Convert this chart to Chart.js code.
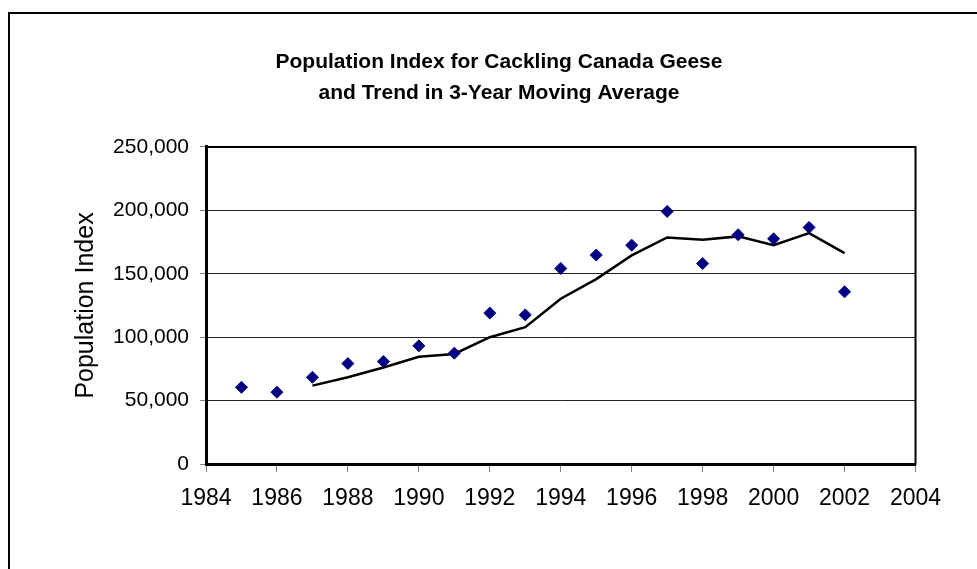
<!DOCTYPE html>
<html>
<head>
<meta charset="utf-8">
<title>Population Index for Cackling Canada Geese</title>
<script src="https://cdn.jsdelivr.net/npm/chart.js@4/dist/chart.umd.min.js"></script>
<style>
  html, body { margin: 0; padding: 0; background: #fff; overflow: hidden; }
  #frame {
    position: absolute; left: 8px; top: 12px;
    width: 1000px; height: 600px;
    border: 2px solid #000;
  }
  #chart { display: block; }
</style>
</head>
<body>
<div id="frame">
  <canvas id="chart" width="978" height="570"></canvas>
</div>
<script>
// ── data ──
const years    = [1985, 1986, 1987, 1988, 1989, 1990, 1991, 1992, 1993,
                  1994, 1995, 1996, 1997, 1998, 1999, 2000, 2001, 2002];
const popIndex = [60500, 56600, 68400, 79200, 80800, 93200, 87400, 119000, 117600,
                  154200, 164800, 172600, 199200, 158100, 180800, 177600, 186600, 135800];

const avgYears  = [1987, 1988, 1989, 1990, 1991, 1992, 1993, 1994,
                   1995, 1996, 1997, 1998, 1999, 2000, 2001, 2002];
const movingAvg = [61800, 68400, 76100, 84500, 86800, 100000, 107900, 130300,
                   145800, 164500, 178700, 176800, 179500, 172600, 182100, 166300];

const titleLines = ['Population Index for Cackling Canada Geese',
                    'and Trend in 3-Year Moving Average'];
const yTitle = 'Population Index';

const FONT = '"Liberation Sans", Arial, sans-serif';

// plot-area box (top & right edges; left/bottom come from the axis borders)
const plotBox = {
  id: 'plotBox',
  afterDatasetsDraw(chart) {
    const { ctx, chartArea: a } = chart;
    ctx.save();
    ctx.strokeStyle = '#000';
    ctx.lineWidth = 2;
    ctx.strokeRect(a.left, a.top, a.right - a.left, a.bottom - a.top);
    ctx.restore();
  }
};

new Chart(document.getElementById('chart'), {
  type: 'scatter',
  data: {
    datasets: [
      {
        type: 'line',
        label: '3-Year Moving Average',
        data: avgYears.map((x, i) => ({ x, y: movingAvg[i] })),
        borderColor: '#000',
        borderWidth: 2.5,
        pointRadius: 0,
        tension: 0,
        fill: false,
        order: 2,
      },
      {
        label: 'Population Index',
        data: years.map((x, i) => ({ x, y: popIndex[i] })),
        pointStyle: 'rectRot',
        pointRadius: 6,
        pointHoverRadius: 6,
        backgroundColor: '#000080',
        borderColor: '#000080',
        borderWidth: 1,
        order: 1,
      },
    ],
  },
  options: {
    responsive: false,
    animation: false,
    events: [],
    layout: { padding: { left: 0, top: 0, right: 0, bottom: 60 } },
    plugins: {
      legend: { display: false },
      tooltip: { enabled: false },
      title: {
        display: true,
        text: titleLines,
        color: '#000',
        font: { family: FONT, size: 21, weight: 'bold', lineHeight: 1.476 },
        padding: { top: 33, bottom: 38 },
      },
    },
    scales: {
      x: {
        type: 'linear',
        min: 1984,
        max: 2004,
        afterFit: s => { s.height = 60; },
        border: { display: true, color: '#000', width: 3 },
        grid: { drawOnChartArea: false, drawTicks: true, tickLength: 8, tickColor: '#808080', tickWidth: 1 },
        ticks: {
          stepSize: 2,
          padding: 13,
          color: '#000',
          font: { family: FONT, size: 23 },
          callback: v => String(v),
        },
      },
      y: {
        min: 0,
        max: 250000,
        afterFit: s => { s.width = 196; },
        border: { display: true, color: '#000', width: 3 },
        grid: { color: '#222', lineWidth: 1, tickLength: 6, tickColor: '#808080', tickWidth: 1 },
        ticks: {
          stepSize: 50000,
          padding: 11,
          color: '#000',
          font: { family: FONT, size: 21 },
          callback: v => v.toLocaleString('en-US'),
        },
        title: {
          display: true,
          text: yTitle,
          color: '#000',
          font: { family: FONT, size: 25 },
          padding: { top: 61, bottom: 0 },
        },
      },
      // empty right-hand spacer so the plot ends where the reference does
      // while the title stays centred on the whole canvas
      spacer: {
        type: 'linear',
        position: 'right',
        display: true,
        afterFit: s => { s.width = 72.5; },
        grid: { display: false },
        border: { display: false },
        ticks: { display: false },
      },
    },
  },
  plugins: [plotBox],
});
</script>
</body>
</html>
